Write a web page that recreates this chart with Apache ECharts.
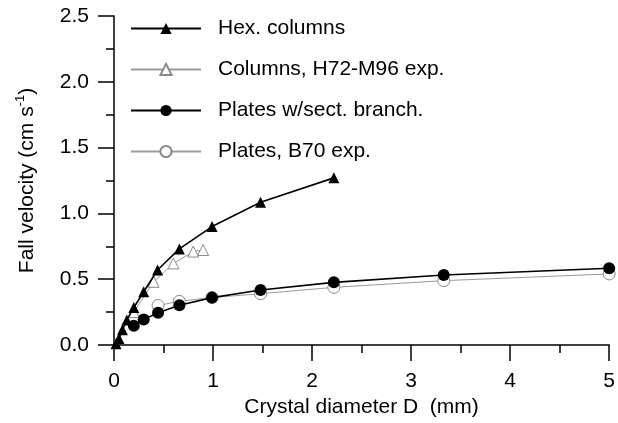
<html>
<head>
	<meta charset="utf-8">
</head>
<body style="margin:0;">
	<div id="main" style="width:618px;height:423px;"></div>
	<script src="https://cdn.jsdelivr.net/npm/echarts@6/dist/echarts.min.js"></script>
	<script>
		// data: [diameter mm, fall velocity cm/s]
		var hexColumns = [[0.02, 0.01], [0.05, 0.05], [0.085, 0.115], [0.13, 0.19], [0.2, 0.285], [0.3, 0.405],
			[0.44, 0.57], [0.66, 0.73], [0.99, 0.9], [1.48, 1.085], [2.22, 1.27]];
		var columnsExp = [[0.2, 0.25], [0.4, 0.48], [0.6, 0.62], [0.8, 0.71], [0.9, 0.722]];
		var platesBranch = [[0.2, 0.147], [0.3, 0.193], [0.445, 0.245], [0.66, 0.302], [0.99, 0.36],
			[1.48, 0.418], [2.22, 0.476], [3.33, 0.532], [5.0, 0.583]];
		var platesExp = [[0.445, 0.3], [0.66, 0.332], [0.99, 0.36], [1.48, 0.39], [2.22, 0.438], [3.33, 0.489], [5.0, 0.54]];
		var names = ['Hex. columns', 'Columns, H72-M96 exp.', 'Plates w/sect. branch.', 'Plates, B70 exp.'];

		var FONT = 'Liberation Sans, Arial, sans-serif';
		var myChart = echarts.init(document.getElementById('main'), null, { renderer: 'canvas' });

		function blackSeries(name, data, symbol, size) {
			return {
				name: name, type: 'line', data: data, z: 3,
				symbol: symbol, symbolSize: size, showAllSymbol: true,
				lineStyle: { color: '#000', width: 1.6 },
				itemStyle: { color: '#000' },
				animation: false
			};
		}
		function greySeries(name, data, symbol, size) {
			return {
				name: name, type: 'line', data: data, z: 2,
				symbol: symbol, symbolSize: size, showAllSymbol: true,
				lineStyle: { color: '#9a9a9a', width: 1 },
				itemStyle: { color: '#fff', borderColor: '#8a8a8a', borderWidth: 1 },
				animation: false
			};
		}

		var option = {
			backgroundColor: '#fff',
			textStyle: { fontFamily: FONT },
			legend: {
				orient: 'vertical',
				left: 125,
				top: 13,
				itemWidth: 70,
				itemHeight: 14,
				itemGap: 20,
				data: names,
				textStyle: { fontFamily: FONT, fontSize: 21, color: '#000', lineHeight: 20, padding: [0, 0, 0, 12] }
			},
			grid: { left: 114, right: 5, top: 16, bottom: 78 },
			xAxis: {
				type: 'value', min: 0, max: 5, interval: 1,
				name: 'Crystal diameter D  (mm)', nameLocation: 'middle', nameGap: 52,
				nameTextStyle: { fontFamily: FONT, fontSize: 21, color: '#000' },
				axisLine: { show: true, lineStyle: { color: '#000', width: 1.5 } },
				axisTick: { show: true, length: 16, lineStyle: { color: '#000', width: 1.5 } },
				minorTick: { show: true, splitNumber: 2, length: 8, lineStyle: { color: '#000', width: 1.5 } },
				axisLabel: { fontFamily: FONT, fontSize: 21, color: '#000', margin: 26 },
				splitLine: { show: false }
			},
			yAxis: {
				type: 'value', min: 0, max: 2.5, interval: 0.5,
				name: '{a|Fall velocity (cm s}{sup|-1}{a|)}', nameLocation: 'middle', nameGap: 76,
				nameTextStyle: {
					rich: {
						a: { fontFamily: FONT, fontSize: 21, color: '#000', lineHeight: 24, verticalAlign: 'bottom' },
						sup: { fontFamily: FONT, fontSize: 13, color: '#000', lineHeight: 24, verticalAlign: 'top', padding: [0, 0, 8, 0] }
					}
				},
				axisLine: { show: true, lineStyle: { color: '#000', width: 1.5 } },
				axisTick: { show: true, length: 16, lineStyle: { color: '#000', width: 1.5 } },
				minorTick: { show: true, splitNumber: 2, length: 8, lineStyle: { color: '#000', width: 1.5 } },
				axisLabel: {
					fontFamily: FONT, fontSize: 21, color: '#000', margin: 25,
					formatter: function (v) { return v.toFixed(1); }
				},
				splitLine: { show: false }
			},
			series: [
				blackSeries(names[0], hexColumns, 'triangle', 11),
				greySeries(names[1], columnsExp, 'triangle', 11),
				blackSeries(names[2], platesBranch, 'circle', 12),
				greySeries(names[3], platesExp, 'circle', 12)
			]
		};
		myChart.setOption(option);
	</script>
</body>
</html>
